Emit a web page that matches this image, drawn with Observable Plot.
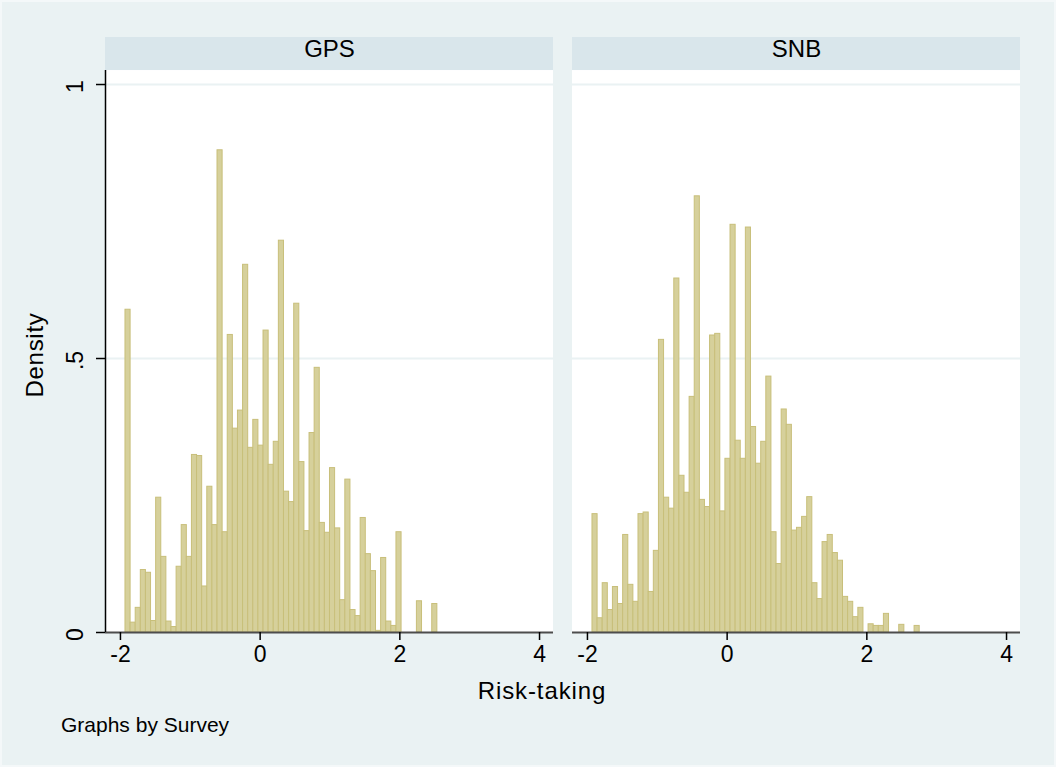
<!DOCTYPE html>
<html>
<head>
<meta charset="utf-8">
<script src="https://cdn.jsdelivr.net/npm/d3@7"></script>
<script src="https://cdn.jsdelivr.net/npm/@observablehq/plot@0.6"></script>
<style>
  html, body { margin: 0; padding: 0; background: #eaf2f3; }
  #fig {
    position: relative; width: 1056px; height: 767px; overflow: hidden;
    background: #eaf2f3; box-shadow: inset 0 0 0 2px #f4f8f9;
    font-family: "Liberation Sans", Arial, sans-serif; color: #000;
  }
  #fig svg { position: absolute; left: 0; top: 0; }
  .txt { position: absolute; white-space: nowrap; line-height: 1; color: #000; }
</style>
</head>
<body>
<div id="fig"></div>
<script>
// ---- data ----
const surveys = ["GPS", "SNB"];
const binStart = -1.928;   // left edge of first histogram bin
const binWidth = 0.0732;   // common bin width
const gpsDensity = [0.589, 0.018, 0.045, 0.114, 0.109, 0.021, 0.246, 0.138, 0.020, 0.010,
  0.120, 0.196, 0.138, 0.324, 0.322, 0.084, 0.266, 0.196, 0.880, 0.183,
  0.543, 0.372, 0.405, 0.671, 0.337, 0.388, 0.341, 0.551, 0.306, 0.348,
  0.715, 0.257, 0.238, 0.600, 0.311, 0.185, 0.364, 0.483, 0.200, 0.182,
  0.300, 0.190, 0.059, 0.279, 0.041, 0.030, 0.209, 0.143, 0.112, 0.003,
  0.136, 0.020, 0.012, 0.183, 0, 0, 0, 0.057, 0, 0, 0.052];
const snbDensity = [0.216, 0.026, 0.090, 0.041, 0.083, 0.052, 0.178, 0.087, 0.056, 0.216,
  0.219, 0.074, 0.149, 0.534, 0.246, 0.226, 0.646, 0.286, 0.255, 0.430,
  0.796, 0.242, 0.229, 0.542, 0.545, 0.221, 0.317, 0.744, 0.350, 0.317,
  0.739, 0.375, 0.308, 0.348, 0.467, 0.183, 0.125, 0.407, 0.379, 0.186,
  0.191, 0.211, 0.247, 0.090, 0.061, 0.165, 0.178, 0.145, 0.131, 0.065,
  0.056, 0.028, 0.045, 0, 0.015, 0.012, 0.012, 0.034, 0, 0,
  0.014, 0, 0, 0.012];
const xTicks = [-2, 0, 2, 4];
const yTicks = [0, 0.5, 1];
const yTickLabels = ["0", ".5", "1"];
const xDomain = [-2.214, 4.2];
const yPanelTop = 1.0255;   // top of plot region
const yStripTop = 1.0858;   // top of the by-group header strip

// ---- build table ----
const seriesBySurvey = {GPS: gpsDensity, SNB: snbDensity};
const bins = surveys.flatMap(s => seriesBySurvey[s].map((d, i) => ({
  survey: s,
  x1: binStart + i * binWidth,
  x2: binStart + (i + 1) * binWidth,
  density: d
}))).filter(d => d.density > 0);

const plotW = 1056, plotH = 680;
const mL = 105, mR = 36;
const bandW = 448;
const gap = 19;

const chart = Plot.plot({
  width: plotW,
  height: plotH,
  marginTop: 37,
  marginBottom: 48,
  marginLeft: mL,
  marginRight: mR,
  style: {background: "transparent", fontFamily: "'Liberation Sans', Arial, sans-serif", color: "#000"},
  x: {domain: xDomain},
  y: {domain: [0, yStripTop]},
  fx: {domain: surveys, paddingInner: gap / (bandW + gap), paddingOuter: 0, axis: null},
  marks: [
    // white plot region
    Plot.rect(surveys, {fx: d => d, x1: xDomain[0], x2: xDomain[1], y1: 0, y2: yPanelTop, fill: "#ffffff"}),
    // header strip
    Plot.rect(surveys, {fx: d => d, x1: xDomain[0], x2: xDomain[1], y1: yPanelTop, y2: yStripTop, fill: "#d9e6eb"}),
    Plot.text(surveys, {fx: d => d, text: d => d, frameAnchor: "top", dy: 2, fontSize: 24, fill: "#000"}),
    // gridlines
    Plot.ruleY([0.5, 1], {stroke: "#eaf2f3", strokeWidth: 2}),
    // bars
    Plot.rectY(bins, {fx: "survey", x1: "x1", x2: "x2", y: "density",
      fill: "#d6d09b", stroke: "#c8bf7a", strokeWidth: 1}),
    // x axis line
    Plot.ruleY([0], {stroke: "#4d4d4d", strokeWidth: 2}),
    // y axis line (left panel only)
    Plot.ruleX(["GPS"], {fx: d => d, x: xDomain[0], y1: 0, y2: yPanelTop, stroke: "#000", strokeWidth: 1.5}),
    // y ticks
    Plot.axisY({ticks: yTicks, tickSize: 9, tickFormat: () => "", label: null, stroke: "#000", strokeWidth: 1.5}),
    Plot.text(yTicks, {fx: () => "GPS", y: d => d, text: (d, i) => yTickLabels[i],
      frameAnchor: "left", dx: -30, dy: (2), rotate: -90, textAnchor: "middle", lineAnchor: "middle",
      fontSize: 23, fill: "#000"}),
    // x axis ticks + labels
    Plot.axisX({ticks: xTicks, tickSize: 8, tickPadding: 5, tickFormat: d => String(d),
      label: null, fontSize: 23, stroke: "#000", strokeWidth: 1.5, fill: "#000"})
  ]
});

const fig = document.getElementById("fig");
fig.appendChild(chart);

function addText(str, css) {
  const d = document.createElement("div");
  d.className = "txt";
  d.textContent = str;
  Object.assign(d.style, css);
  fig.appendChild(d);
  return d;
}
// axis titles and note
addText("Density", {left: "35px", top: "355px", fontSize: "24px", letterSpacing: "0.7px",
  transform: "translate(-50%, -50%) rotate(-90deg)"});
addText("Risk-taking", {left: "542px", top: "679px", fontSize: "24px", letterSpacing: "0.9px",
  transform: "translateX(-50%)"});
addText("Graphs by Survey", {left: "61px", top: "714px", fontSize: "21px"});
</script>
</body>
</html>
